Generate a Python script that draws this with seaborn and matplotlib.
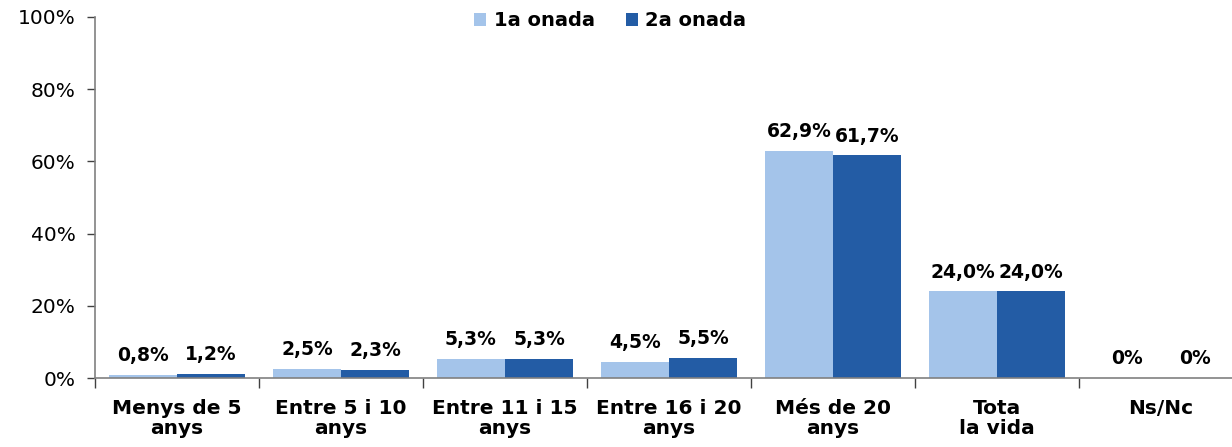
import numpy as np
import pandas as pd
import matplotlib
matplotlib.use('Agg')
import matplotlib.pyplot as plt
import seaborn as sns

categories = ['Menys de 5\nanys', 'Entre 5 i 10\nanys', 'Entre 11 i 15\nanys', 'Entre 16 i 20\nanys',
              'Més de 20\nanys', 'Tota\nla vida', 'Ns/Nc']
wave1 = [0.8, 2.5, 5.3, 4.5, 62.9, 24.0, 0.0]
wave2 = [1.2, 2.3, 5.3, 5.5, 61.7, 24.0, 0.0]
series = ['1a onada', '2a onada']
colors = ['#A4C4EA', '#235CA5']

df = pd.DataFrame({
    'cat': categories * 2,
    'val': wave1 + wave2,
    'serie': [series[0]] * len(categories) + [series[1]] * len(categories),
})

sns.set_style('white')
plt.rcParams['font.family'] = ['DejaVu Sans']
plt.rcParams['text.color'] = 'black'
plt.rcParams['xtick.color'] = 'black'
plt.rcParams['ytick.color'] = 'black'

fig = plt.figure(figsize=(12.32, 4.47), dpi=100)
ax = fig.add_axes([95 / 1232, 1 - 378 / 447, 1148 / 1232, 361 / 447])

sns.barplot(data=df, x='cat', y='val', hue='serie', palette=colors, width=0.83,
            saturation=1, ax=ax, legend=True, linewidth=0, edgecolor='none')

def fmt(v):
    if v == 0:
        return '0%'
    return f'{v:.1f}%'.replace('.', ',')

for cont in ax.containers:
    ax.bar_label(cont, labels=[fmt(b.get_height()) for b in cont], padding=7,
                 fontsize=13.5, fontweight='bold', color='black')

ax.set_ylim(0, 100)
ax.set_xlim(-0.5, len(categories) - 0.5)
ax.set_yticks(np.arange(0, 101, 20))
ax.set_yticklabels([f'{t}%' for t in range(0, 101, 20)], fontsize=14.5)
ax.set_xticks(np.arange(len(categories)) - 0.5)
ax.set_xticklabels([])
ax.set_xticks(np.arange(len(categories)), minor=True)
ax.set_xticklabels(categories, minor=True, fontsize=14.5, fontweight='bold', linespacing=1.05)
ax.tick_params(axis='x', which='major', length=7, width=1, color='#404040', direction='out', bottom=True)
ax.tick_params(axis='x', which='minor', length=0, pad=15, bottom=True)
ax.tick_params(axis='y', length=6, width=1, color='#404040', direction='out', pad=8, left=True)
ax.set_xlabel('')
ax.set_ylabel('')
sns.despine(ax=ax)
for s in ['left', 'bottom']:
    ax.spines[s].set_color('#808080')
    ax.spines[s].set_linewidth(1.2)

leg = ax.legend(loc='upper center', bbox_to_anchor=(0.449, 1.064), ncol=2, frameon=False,
                prop={'weight': 'bold', 'size': 14}, handlelength=0.6, handleheight=0.6,
                handletextpad=0.4, columnspacing=1.6)

fig.savefig('out.png', dpi=100)
